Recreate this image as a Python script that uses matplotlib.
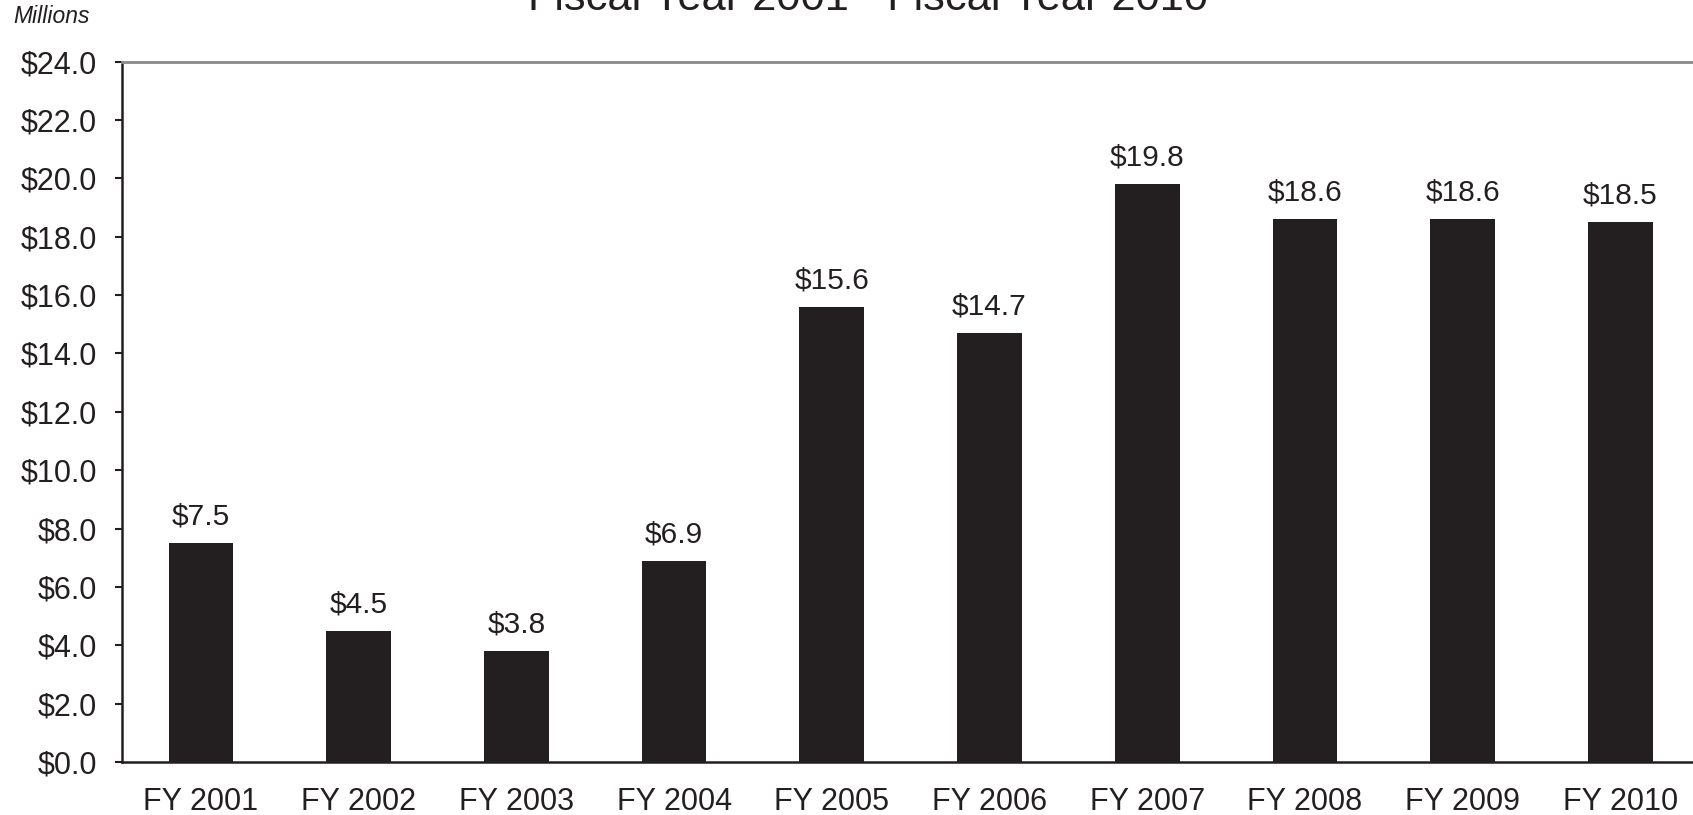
import matplotlib.pyplot as plt
import numpy as np

plt.rcParams['font.family'] = ['Liberation Sans', 'DejaVu Sans']

# dati
years = ['FY 2001', 'FY 2002', 'FY 2003', 'FY 2004', 'FY 2005',
         'FY 2006', 'FY 2007', 'FY 2008', 'FY 2009', 'FY 2010']
values = [7.5, 4.5, 3.8, 6.9, 15.6, 14.7, 19.8, 18.6, 18.6, 18.5]
yticks = np.arange(0, 24.1, 2.0)

dark = '#231f20'

fig = plt.figure(figsize=(16.93, 8.15), dpi=100)
ax = fig.add_axes([0.0721, 0.065, 0.9279, 0.8595])

x = np.arange(len(years))
bars = ax.bar(x, values, width=0.41, color=dark, zorder=3)

# etichette sopra le barre
for xi, v in zip(x, values):
    ax.annotate(f'${v:.1f}', (xi, v), xytext=(0, 9), textcoords='offset points',
                ha='center', va='bottom', fontsize=21.5, color=dark)

ax.set_xlim(-0.5, 9.46)
ax.set_ylim(0, 24)
ax.set_yticks(yticks)
ax.set_yticklabels([f'${t:.1f}' for t in yticks], fontsize=22, color=dark)
ax.set_xticks(x)
ax.set_xticklabels(years, fontsize=22, color=dark)
ax.tick_params(axis='x', length=0, pad=18)
ax.tick_params(axis='y', length=5, width=1.5, color=dark, pad=13)

ax.spines['right'].set_visible(False)
ax.spines['top'].set_color('#8a8a8a')
ax.spines['top'].set_linewidth(2)
ax.spines['left'].set_color(dark)
ax.spines['left'].set_linewidth(1.8)
ax.spines['bottom'].set_color(dark)
ax.spines['bottom'].set_linewidth(1.8)

fig.text(0.513, 0.9877, 'Fiscal Year 2001 - Fiscal Year 2010', ha='center',
         va='baseline', fontsize=31.2, color=dark)
fig.text(0.0077, 0.98, 'Millions', ha='left', va='center', fontsize=16.5,
         style='italic', color=dark)

fig.savefig('out.png', dpi=100)
